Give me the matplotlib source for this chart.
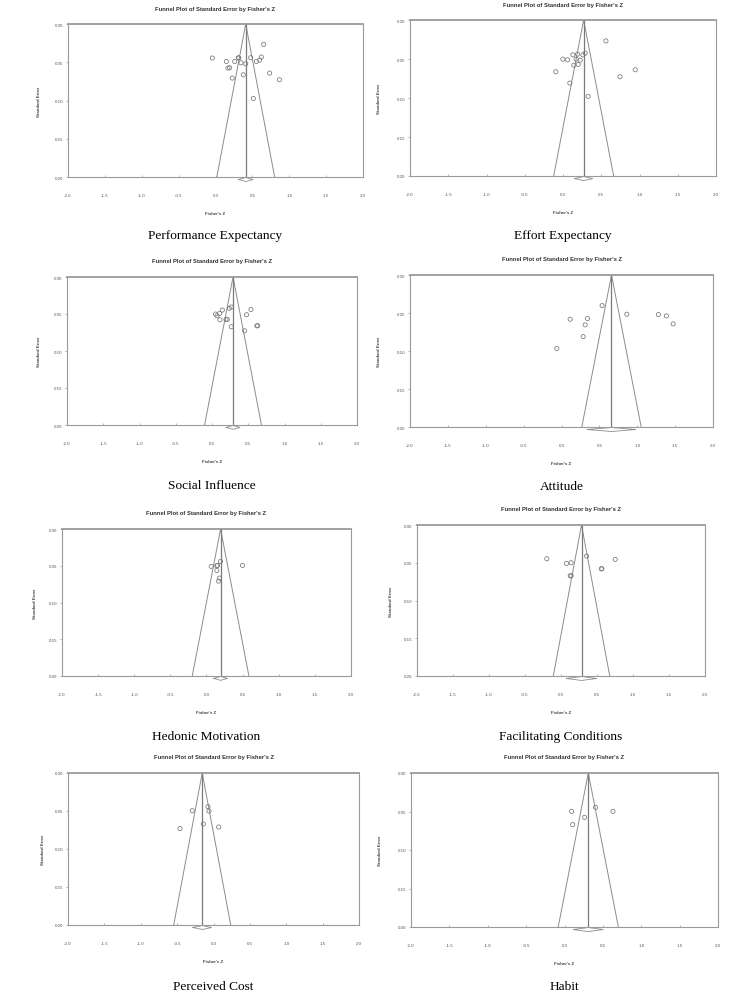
import numpy as np
import matplotlib
matplotlib.use("Agg")
import matplotlib.pyplot as plt

W, H = 747, 1004

names = ["Performance Expectancy", "Effort Expectancy", "Social Influence", "Attitude",
         "Hedonic Motivation", "Facilitating Conditions", "Perceived Cost", "Habit"]

# summary Fisher's Z (centre line) and half width of the diamond
summary_z = [0.41, 0.27, 0.29, 0.66, 0.195, 0.285, -0.155, 0.31]
diamond_hw = [0.10, 0.12, 0.096, 0.32, 0.094, 0.21, 0.128, 0.195]

pe_z = [-0.043, 0.147, 0.169, 0.192, 0.228, 0.260, 0.310, 0.316, 0.346, 0.377, 0.409,
        0.477, 0.513, 0.554, 0.599, 0.621, 0.653, 0.734, 0.866]
pe_se = [0.0445, 0.049, 0.0576, 0.0572, 0.0707, 0.049, 0.0441, 0.0445, 0.0507, 0.0664, 0.052,
         0.0441, 0.0974, 0.049, 0.0472, 0.0432, 0.0266, 0.0642, 0.0729]

ee_z = [-0.094, -0.002, 0.059, 0.089, 0.129, 0.142, 0.172, 0.190, 0.198, 0.225, 0.260,
        0.290, 0.329, 0.561, 0.744, 0.944]
ee_se = [0.0664, 0.0502, 0.051, 0.0809, 0.0447, 0.0579, 0.0502, 0.0438, 0.057, 0.0515, 0.0447,
         0.0426, 0.0979, 0.0268, 0.0728, 0.0638]

si_z = [0.050, 0.069, 0.106, 0.110, 0.142, 0.193, 0.211, 0.239, 0.266, 0.266, 0.450,
        0.477, 0.537, 0.619, 0.630]
si_se = [0.0501, 0.0524, 0.0492, 0.0578, 0.0447, 0.0573, 0.0573, 0.0424, 0.0406, 0.0673, 0.0727,
         0.051, 0.0438, 0.0659, 0.0659]

at_z = [-0.062, 0.114, 0.286, 0.312, 0.343, 0.536, 0.862, 1.279, 1.385, 1.473]
at_se = [0.0967, 0.0582, 0.081, 0.0656, 0.0573, 0.0403, 0.0516, 0.0521, 0.0538, 0.0643]

hm_z = [0.065, 0.143, 0.152, 0.143, 0.194, 0.180, 0.166, 0.498]
hm_se = [0.0509, 0.050, 0.0495, 0.0564, 0.0441, 0.0668, 0.0709, 0.0495]

fc_z = [-0.197, 0.077, 0.141, 0.128, 0.141, 0.355, 0.560, 0.568, 0.753]
fc_se = [0.0447, 0.0509, 0.050, 0.0673, 0.0673, 0.0412, 0.058, 0.058, 0.0456]

pc_z = [-0.460, -0.291, -0.140, -0.076, -0.062, 0.071]
pc_se = [0.0732, 0.0496, 0.0671, 0.0443, 0.050, 0.0711]

hb_z = [0.093, 0.106, 0.262, 0.405, 0.631]
hb_se = [0.0498, 0.0671, 0.0576, 0.0446, 0.0498]

studies_z = [pe_z, ee_z, si_z, at_z, hm_z, fc_z, pc_z, hb_z]
studies_se = [pe_se, ee_se, si_se, at_se, hm_se, fc_se, pc_se, hb_se]

x_ticks = [-2.0, -1.5, -1.0, -0.5, 0.0, 0.5, 1.0, 1.5, 2.0]
y_ticks = [0.00, 0.05, 0.10, 0.15, 0.20]

# pixel boxes: left, right, top, bottom, ylabel x
boxes = [(68, 363, 25, 178, 39), (410, 716, 21, 177, 379),
         (67, 357, 278, 426, 39), (410, 713, 276, 428, 379),
         (62, 351, 530, 677, 35), (417, 705, 526, 677, 391),
         (68, 359, 774, 926, 43), (411, 718, 774, 928, 380)]
caption_y = [236, 236, 486, 487, 737, 737, 987, 987]

fig = plt.figure(figsize=(W / 100, H / 100), dpi=100)
fig.patch.set_facecolor("white")

gray = "#9a9a9a"
for i in range(8):
    l, r, t, b, yl = boxes[i]
    ax = fig.add_axes([l / W, 1 - b / H, (r - l) / W, (b - t) / H])
    c = summary_z[i]
    se_max = 0.2
    # funnel
    ax.plot([c - 1.96 * se_max, c, c + 1.96 * se_max], [se_max, 0, se_max], color="#8c8c8c", lw=0.7)
    ax.plot([c, c], [0, se_max], color="#7a7a7a", lw=0.9)
    ax.scatter(studies_z[i], studies_se[i], s=9, facecolors="none", edgecolors="#777777", linewidths=0.55, zorder=3)
    # summary diamond below axis
    yd = 0.2033
    dh = 0.0026
    hw = diamond_hw[i]
    ax.plot([c - hw, c, c + hw, c, c - hw], [yd, yd - dh, yd, yd + dh, yd], color="#8c8c8c", lw=0.6, clip_on=False)
    ax.set_xlim(-2, 2)
    ax.set_ylim(0.2, 0)
    ax.set_xticks(x_ticks)
    ax.set_yticks(y_ticks)
    ax.set_xticklabels([f"{v:.1f}" for v in x_ticks], fontsize=3.2, color="#555555", family="Liberation Sans")
    ax.set_yticklabels([f"{v:.2f}" for v in y_ticks], fontsize=3.2, color="#555555", family="Liberation Sans")
    ax.tick_params(axis="x", direction="in", length=1.2, width=0.5, color=gray, pad=11.5)
    ax.tick_params(axis="y", direction="out", length=1.2, width=0.5, color=gray, pad=2)
    for s in ax.spines.values():
        s.set_color(gray)
        s.set_linewidth(0.8)
    ax.spines["top"].set_linewidth(1.3)
    ax.set_facecolor("white")
    xc = (l + r) / 2
    fig.text(xc / W, 1 - (t - 16) / H, "Funnel Plot of Standard Error by Fisher's Z", ha="center", va="center",
             fontsize=4.2, fontweight="bold", family="Liberation Sans", color="#333333")
    fig.text(yl / W, 1 - (t + b) / 2 / H, "Standard Error", rotation=90, ha="center", va="center",
             fontsize=3.2, fontweight="bold", family="Liberation Sans", color="#444444")
    fig.text(xc / W, 1 - (b + 36) / H, "Fisher's Z", ha="center", va="center",
             fontsize=3.2, fontweight="bold", family="Liberation Sans", color="#444444")
    fig.text(xc / W, 1 - caption_y[i] / H, names[i], ha="center", va="center",
             fontsize=9.6, family="Liberation Serif", color="black")

fig.savefig("out.png", dpi=100, facecolor="white")
